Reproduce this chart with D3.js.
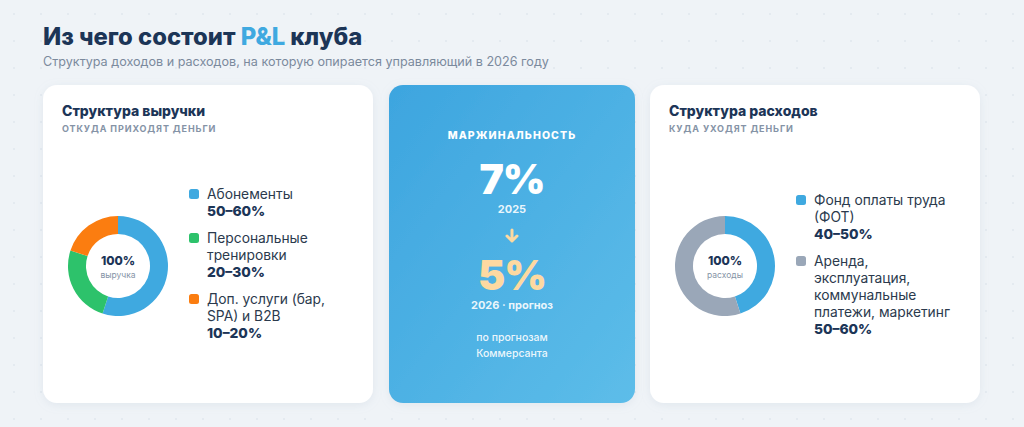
<!DOCTYPE html>
<html>
<head>
<meta charset="utf-8">
<script src="https://cdn.jsdelivr.net/npm/d3@7"></script>
<style>
  body { margin: 0; background: #eff3f7; }
  svg { display: block; font-family: Inter, "Noto Sans", sans-serif; }
</style>
</head>
<body>
<div id="chart"></div>
<script>
// data
const revenueLabels = [["Абонементы"], ["Персональные", "тренировки"], ["Доп. услуги (бар,", "SPA) и B2B"]];
const revenueRanges = ["50–60%", "20–30%", "10–20%"];
const revenueShares = [55, 25, 20];
const revenueColors = ["#3fa9e0", "#2dc26b", "#fb7d10"];

const costLabels = [["Фонд оплаты труда", "(ФОТ)"], ["Аренда,", "эксплуатация,", "коммунальные", "платежи, маркетинг"]];
const costRanges = ["40–50%", "50–60%"];
const costShares = [45, 55];
const costColors = ["#3fa9e0", "#9aa7b8"];

const marginYears = ["2025", "2026 · прогноз"];
const marginValues = [7, 5];

const width = 1024;
const height = 427;
const navy = "#1c3557";

const svg = d3.select("#chart")
	.append("svg")
		.attr("width", width)
		.attr("height", height);

const defs = svg.append("defs");

// dotted background
const pat = defs.append("pattern")
	.attr("id", "dots")
	.attr("width", 27)
	.attr("height", 27)
	.attr("patternUnits", "userSpaceOnUse");
pat.append("circle").attr("cx", 14).attr("cy", 14).attr("r", 1).attr("fill", "#e1e7ee");

const grad = defs.append("linearGradient")
	.attr("id", "blueGrad")
	.attr("x1", "0").attr("y1", "0").attr("x2", "1").attr("y2", "1");
grad.append("stop").attr("offset", "0").attr("stop-color", "#3da5df");
grad.append("stop").attr("offset", "1").attr("stop-color", "#5dbde9");

const shadow = defs.append("filter").attr("id", "shadow")
	.attr("x", "-10%").attr("y", "-10%").attr("width", "120%").attr("height", "130%");
shadow.append("feDropShadow")
	.attr("dx", 0).attr("dy", 2).attr("stdDeviation", 4)
	.attr("flood-color", "#9fb0c4").attr("flood-opacity", 0.18);

svg.append("rect").attr("width", width).attr("height", height).attr("fill", "#eff3f7");
svg.append("rect").attr("width", width).attr("height", height).attr("fill", "url(#dots)");

// header
const title = svg.append("text")
	.attr("x", 43).attr("y", 45)
	.attr("font-size", 23.8).attr("font-weight", 800)
	.attr("fill", navy);
title.append("tspan").text("Из чего состоит ");
title.append("tspan").attr("fill", "#3fa9e0").text("P&L");
title.append("tspan").text(" клуба");

svg.append("text")
	.attr("x", 43).attr("y", 66)
	.attr("font-size", 12.6).attr("fill", "#7b8a9d")
	.text("Структура доходов и расходов, на которую опирается управляющий в 2026 году");

// cards
const cards = [
	{ x: 43, w: 330 },
	{ x: 389, w: 246 },
	{ x: 650, w: 330 }
];
const cardY = 85, cardH = 318;

cards.forEach((c, i) => {
	svg.append("rect")
		.attr("x", c.x).attr("y", cardY)
		.attr("width", c.w).attr("height", cardH)
		.attr("rx", 14)
		.attr("fill", i == 1 ? "url(#blueGrad)" : "#ffffff")
		.attr("filter", "url(#shadow)");
});

function donutPanel(x0, heading, sub, center, labels, ranges, shares, colors, legendTop) {
	const g = svg.append("g").attr("transform", `translate(${x0},0)`);

	g.append("text")
		.attr("x", 19).attr("y", 116)
		.attr("font-size", 14).attr("font-weight", 800).attr("fill", navy)
		.text(heading);
	g.append("text")
		.attr("x", 19).attr("y", 132)
		.attr("font-size", 9).attr("font-weight", 700)
		.attr("letter-spacing", 0.9).attr("fill", "#8593a6")
		.text(sub);

	const pie = d3.pie().sort(null).value((d) => d);
	const arc = d3.arc().innerRadius(32).outerRadius(50);

	const donut = g.append("g").attr("transform", `translate(${75},${266})`);
	donut.selectAll("path")
		.data(pie(shares))
		.enter()
		.append("path")
			.attr("d", arc)
			.attr("fill", (d, i) => colors[i]);

	donut.append("text")
		.attr("text-anchor", "middle").attr("y", -1)
		.attr("font-size", 12).attr("font-weight", 800).attr("fill", navy)
		.text("100%");
	donut.append("text")
		.attr("text-anchor", "middle").attr("y", 12)
		.attr("font-size", 8.5).attr("fill", "#8593a6")
		.text(center);

	// legend
	const lh = 17;
	let y = legendTop;
	labels.forEach((lines, i) => {
		g.append("rect")
			.attr("x", 146).attr("y", y - 10)
			.attr("width", 10).attr("height", 10)
			.attr("rx", 2.5)
			.attr("fill", colors[i]);
		lines.forEach((line) => {
			g.append("text")
				.attr("x", 164).attr("y", y)
				.attr("font-size", 13.8).attr("fill", "#2b3a4d")
				.text(line);
			y += lh;
		});
		g.append("text")
			.attr("x", 164).attr("y", y)
			.attr("font-size", 13.8).attr("font-weight", 800).attr("fill", navy)
			.text(ranges[i]);
		y += lh + 10;
	});
}

donutPanel(43, "Структура выручки", "ОТКУДА ПРИХОДЯТ ДЕНЬГИ", "выручка",
	revenueLabels, revenueRanges, revenueShares, revenueColors, 199);
donutPanel(650, "Структура расходов", "КУДА УХОДЯТ ДЕНЬГИ", "расходы",
	costLabels, costRanges, costShares, costColors, 205);

// margin card
const cx = 512;
const mid = svg.append("g");

mid.append("text")
	.attr("x", cx).attr("y", 139)
	.attr("text-anchor", "middle")
	.attr("font-size", 10.5).attr("font-weight", 800)
	.attr("letter-spacing", 1.1).attr("fill", "#ffffff")
	.text("МАРЖИНАЛЬНОСТЬ");

const bigColors = ["#ffffff", "#fdd9a1"];
const bigY = [194, 290];
marginValues.forEach((v, i) => {
	mid.append("text")
		.attr("x", cx).attr("y", bigY[i])
		.attr("text-anchor", "middle")
		.attr("font-size", 41).attr("font-weight", 900)
		.attr("letter-spacing", -1)
		.attr("fill", bigColors[i])
		.text(`${v}%`);
	mid.append("text")
		.attr("x", cx).attr("y", bigY[i] + 19)
		.attr("text-anchor", "middle")
		.attr("font-size", 11).attr("font-weight", 700)
		.attr("fill", "#ffffff").attr("fill-opacity", 0.9)
		.text(marginYears[i]);
});

// arrow
mid.append("path")
	.attr("d", `M${cx},230 L${cx},241 M${cx - 5},236 L${cx},241 L${cx + 5},236`)
	.attr("fill", "none")
	.attr("stroke", "#fdd9a1")
	.attr("stroke-width", 3)
	.attr("stroke-linecap", "round")
	.attr("stroke-linejoin", "round");

["по прогнозам", "Коммерсанта"].forEach((t, i) => {
	mid.append("text")
		.attr("x", cx).attr("y", 341 + i * 16)
		.attr("text-anchor", "middle")
		.attr("font-size", 10.5).attr("font-weight", 500)
		.attr("fill", "#ffffff").attr("fill-opacity", 0.9)
		.text(t);
});
</script>
</body>
</html>
